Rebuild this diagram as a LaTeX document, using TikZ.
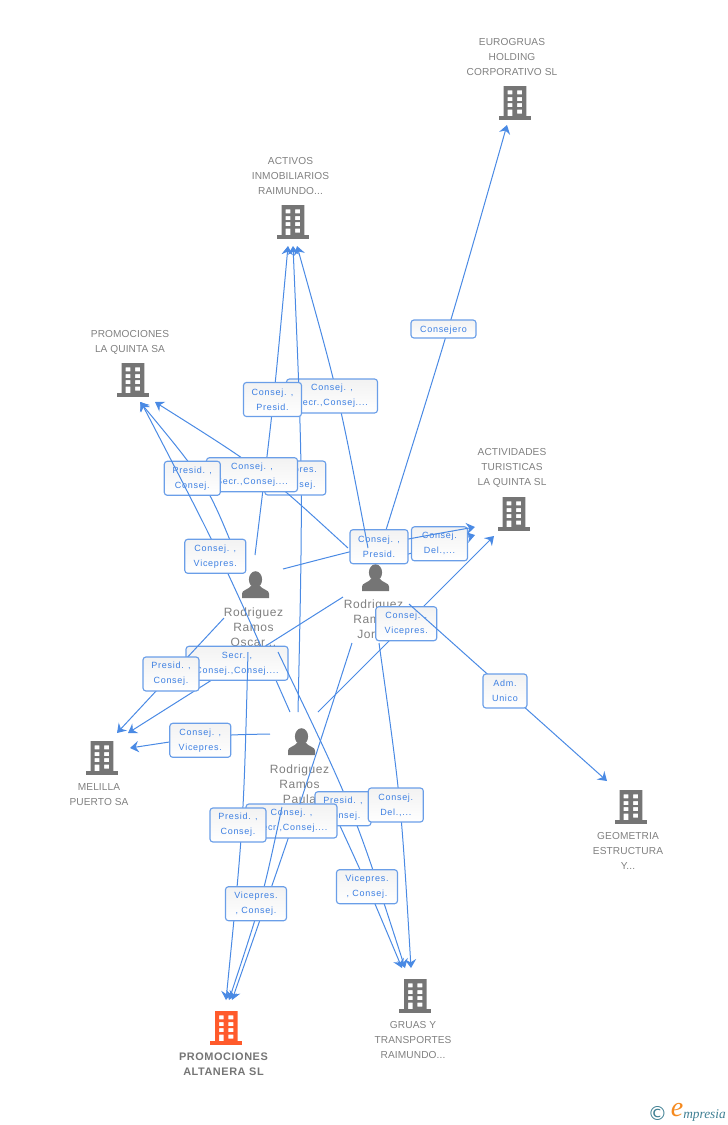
\documentclass[tikz,border=0pt]{standalone}
\usepackage{fontspec}
\setmainfont{Liberation Sans}
\newfontfamily\lblfont[LetterSpace=8]{Liberation Sans}
\newfontfamily\orgfont[LetterSpace=1]{Liberation Sans}
\newfontfamily\perfont[LetterSpace=5]{Liberation Sans}
\newfontfamily\boldorg[LetterSpace=5]{Liberation Sans Bold}
\newfontfamily\logofont{Liberation Serif Italic}
\newfontfamily\symfont{DejaVu Sans}
\usetikzlibrary{arrows.meta}
\definecolor{linkblue}{HTML}{4A8AE4}
\definecolor{boxblue}{HTML}{6A9EE8}
\definecolor{txtblue}{HTML}{3C7FE2}
\definecolor{iconGray}{HTML}{757575}
\definecolor{nameGray}{HTML}{808080}
\definecolor{hotOrange}{HTML}{FF5A2B}
\definecolor{logoTeal}{HTML}{3F7F93}
\definecolor{logoOrange}{HTML}{F58A1F}
\tikzset{
  link/.style={draw=linkblue,line width=.75pt},
  tolink/.style={link,-{Stealth[length=6.5pt,width=8.5pt,inset=2.2pt]}},
  lbl/.style 2 args={draw=boxblue,line width=.85pt,rounded corners=2.2pt,
    top color=black!5,bottom color=white,inner sep=0pt,align=center,
    minimum width=#1*0.75pt,minimum height=#2*0.75pt,text=txtblue,
    font=\lblfont\fontsize{6.75}{11.25}\selectfont,
    execute at begin node={\rule{0pt}{6.6pt}}},
  orgname/.style={text=nameGray,align=center,inner sep=0pt,font=\orgfont\fontsize{7.6}{11.25}\selectfont},
  pername/.style={text=nameGray,align=center,inner sep=0pt,font=\perfont\fontsize{9}{11.25}\selectfont},
  hotname/.style={text=iconGray,align=center,inner sep=0pt,font=\boldorg\fontsize{8.2}{11.25}\selectfont},
  pics/building/.style={code={
    \fill[#1,even odd rule] (-11.3,-17) rectangle (11.3,13.5)
      (-7.3,-12.7) rectangle (-2.7,-8.7) (2,-12.7) rectangle (7,-8.7)
      (-7.3,-6) rectangle (-2.7,-2) (2,-6) rectangle (7,-2)
      (-7.3,0) rectangle (-2.7,4) (2,0) rectangle (7,4)
      (-7.3,6.7) rectangle (-2.7,13.5) (2,6.7) rectangle (7,10.7);
    \fill[#1] (-16,13.2) rectangle (16,16.5);
  }},
  pics/person/.style={code={
    \fill[iconGray] (0,-4.5) ellipse [x radius=6.6,y radius=8.3];
    \fill[iconGray] (-13.5,14) -- (-13.5,9.5) .. controls (-13.5,6) and (-7,5.5) .. (-4.5,2)
      -- (4.5,2) .. controls (7,5.5) and (13.5,6) .. (13.5,9.5) -- (13.5,14) -- cycle;
  }}
}
\begin{document}
\begin{tikzpicture}[x=0.75pt,y=-0.75pt]
\useasboundingbox (0,0) rectangle (728,1125);
% buildings
\pic at (515,103) {building=iconGray};
\pic at (293,222) {building=iconGray};
\pic at (133,380) {building=iconGray};
\pic at (514,514) {building=iconGray};
\pic at (102,758) {building=iconGray};
\pic at (631,807) {building=iconGray};
\pic at (415.3,996) {building=iconGray};
\pic at (226.3,1028) {building=hotOrange};
% company names
\node[orgname] (nEuro) at (512,57) {EUROGRUAS\\HOLDING\\CORPORATIVO SL};
\node[orgname] (nActi) at (290.5,176.5) {ACTIVOS\\INMOBILIARIOS\\RAIMUNDO...};
\node[orgname] (nProm) at (130,342) {PROMOCIONES\\LA QUINTA SA};
\node[orgname] (nTur) at (512,468) {ACTIVIDADES\\TURISTICAS\\LA QUINTA SL};
\node[orgname] (nMel) at (99,795) {MELILLA\\PUERTO SA};
\node[orgname] (nGeo) at (628,851) {GEOMETRIA\\ESTRUCTURA\\Y...};
\node[orgname] (nGru) at (413,1040) {GRUAS Y\\TRANSPORTES\\RAIMUNDO...};
\node[hotname] (nAlt) at (223.5,1064.5) {PROMOCIONES\\ALTANERA SL};
% persons
\pic at (255.5,584) {person};
\pic at (375.5,577) {person};
\pic at (301.5,741) {person};
\node[pername] (nOsc) at (253.5,627) {Rodriguez\\Ramos\\Oscar...};
\node[pername] (nJor) at (373.5,620) {Rodriguez\\Ramos\\Jorge};
\node[pername] (nPau) at (299.5,784) {Rodriguez\\Ramos\\Paula};
% anchor points of the connectors
\coordinate (oscActi) at (255,555);   \coordinate (actiOsc) at (288,246);
\coordinate (pauActi) at (298,712);   \coordinate (actiPau) at (293,246);
\coordinate (jorActi) at (368,548);   \coordinate (actiJor) at (297,246);
\coordinate (jorEuro) at (386,530);   \coordinate (euroJor) at (507,125);
\coordinate (jorTur)  at (405,555);   \coordinate (turJor)  at (475,535);
\coordinate (oscTur)  at (283,569);   \coordinate (turOsc)  at (475,527);
\coordinate (pauTur)  at (318,712);   \coordinate (turPau)  at (494,536);
\coordinate (jorGeo)  at (409,604);   \coordinate (geoJor)  at (607,781);
\coordinate (jorProm) at (348,548);   \coordinate (promJor) at (155,402);
\coordinate (oscProm) at (240,565);   \coordinate (promOsc) at (140,402);
\coordinate (pauProm) at (290,712);   \coordinate (promPau) at (141,402);
\coordinate (oscMel)  at (224,618);   \coordinate (melOsc)  at (117,733);
\coordinate (jorMel)  at (343,597);   \coordinate (melJor)  at (128,733);
\coordinate (pauMel)  at (270,734);   \coordinate (melPau)  at (130,748);
\coordinate (oscAlt)  at (248,652);   \coordinate (altOsc)  at (226,1000);
\coordinate (jorAlt)  at (352,643);   \coordinate (altJor)  at (232,1000);
\coordinate (pauAlt)  at (282,807);   \coordinate (altPau)  at (229,1000);
\coordinate (oscGru)  at (278,652);   \coordinate (gruOsc)  at (405,968);
\coordinate (jorGru)  at (379,643);   \coordinate (gruJor)  at (411,968);
\coordinate (pauGru)  at (335,815);   \coordinate (gruPau)  at (402,968);
% connectors and their labels, in stacking order
\draw[tolink] (jorEuro) .. controls (450,325) .. (euroJor);
\node[lbl={65}{18}] (lEuro) at (443.5,329) {Consejero};
\draw[tolink] (jorTur) -- (turJor);
\node[lbl={56}{34}] (lJorTur) at (439.5,543.8) {Consej.\\Del.,...};
\draw[tolink] (oscTur) .. controls (379,544) .. (turOsc);
\node[lbl={58}{34}] (lOscTur) at (379,546.7) {Consej. ,\\Presid.};
\draw[tolink] (jorActi) .. controls (339,396) .. (actiJor);
\node[lbl={91}{34}] (lJorActi) at (332,396) {Consej. ,\\Secr.,Consej....};
\draw[tolink] (pauActi) .. controls (303,480) .. (actiPau);
\node[lbl={61}{34}] (lPauActi) at (295.3,478) {Vicepres.\\, Consej.};
\draw[tolink] (oscActi) .. controls (274,400) .. (actiOsc);
\node[lbl={58}{34}] (lOscActi) at (272.5,399.5) {Consej. ,\\Presid.};
\draw[tolink] (jorProm) .. controls (263,470) .. (promJor);
\node[lbl={91}{34}] (lJorProm) at (252,474.7) {Consej. ,\\Secr.,Consej....};
\draw[tolink] (oscProm) .. controls (207,483) .. (promOsc);
\node[lbl={56}{34}] (lOscProm) at (192.3,478.3) {Presid. ,\\Consej.};
\draw[tolink] (pauProm) .. controls (222,558) .. (promPau);
\node[lbl={61}{34}] (lPauProm) at (215.3,556.3) {Consej. ,\\Vicepres.};
\draw[tolink] (jorMel) -- (melJor);
\node[lbl={102}{34}] (lJorMel) at (237,663.3) {Secr. ,\\Consej.,Consej....};
\draw[tolink] (oscMel) -- (melOsc);
\node[lbl={56}{34}] (lOscMel) at (171,674) {Presid. ,\\Consej.};
\draw[tolink] (pauMel) .. controls (215,735) .. (melPau);
\node[lbl={61}{34}] (lPauMel) at (200.3,740.3) {Consej. ,\\Vicepres.};
\draw[tolink] (pauTur) -- (turPau);
\node[lbl={61}{34}] (lPauTur) at (406.3,623.7) {Consej. ,\\Vicepres.};
\draw[tolink] (jorGeo) -- (geoJor);
\node[lbl={44}{34}] (lJorGeo) at (505,691) {Adm.\\Unico};
\draw[tolink] (pauGru) .. controls (365,880) .. (gruPau);
\draw[tolink] (oscGru) .. controls (354,810) .. (gruOsc);
\node[lbl={56}{34}] (lOscGru) at (343,808.7) {Presid. ,\\Consej.};
\draw[tolink] (jorGru) .. controls (401,800) .. (gruJor);
\node[lbl={55}{34}] (lJorGru) at (395.8,805) {Consej.\\Del.,...};
\node[lbl={61}{34}] (lPauGru) at (367,886.7) {Vicepres.\\, Consej.};
\draw[tolink] (jorAlt) .. controls (295,820) .. (altJor);
\node[lbl={91}{34}] (lJorAlt) at (291.5,821) {Consej. ,\\Secr.,Consej....};
\draw[tolink] (oscAlt) .. controls (243.5,825) .. (altOsc);
\node[lbl={56}{34}] (lOscAlt) at (238,825) {Presid. ,\\Consej.};
\draw[tolink] (pauAlt) .. controls (262,900) .. (altPau);
\node[lbl={61}{34}] (lPauAlt) at (256,903.7) {Vicepres.\\, Consej.};
% logo
\node[text=logoTeal,inner sep=0pt,font=\symfont\fontsize{14.5}{15}\selectfont] (logoC) at (657.5,1113.5) {©};
\node[text=logoOrange,inner sep=0pt,font=\logofont\fontsize{21}{21}\selectfont] (logoE) at (677,1110) {e};
\node[text=logoTeal,inner sep=0pt,anchor=base west,font=\logofont\fontsize{10}{11}\selectfont] (logoT) at (683,1118) {mpresia};
\end{tikzpicture}
\end{document}
